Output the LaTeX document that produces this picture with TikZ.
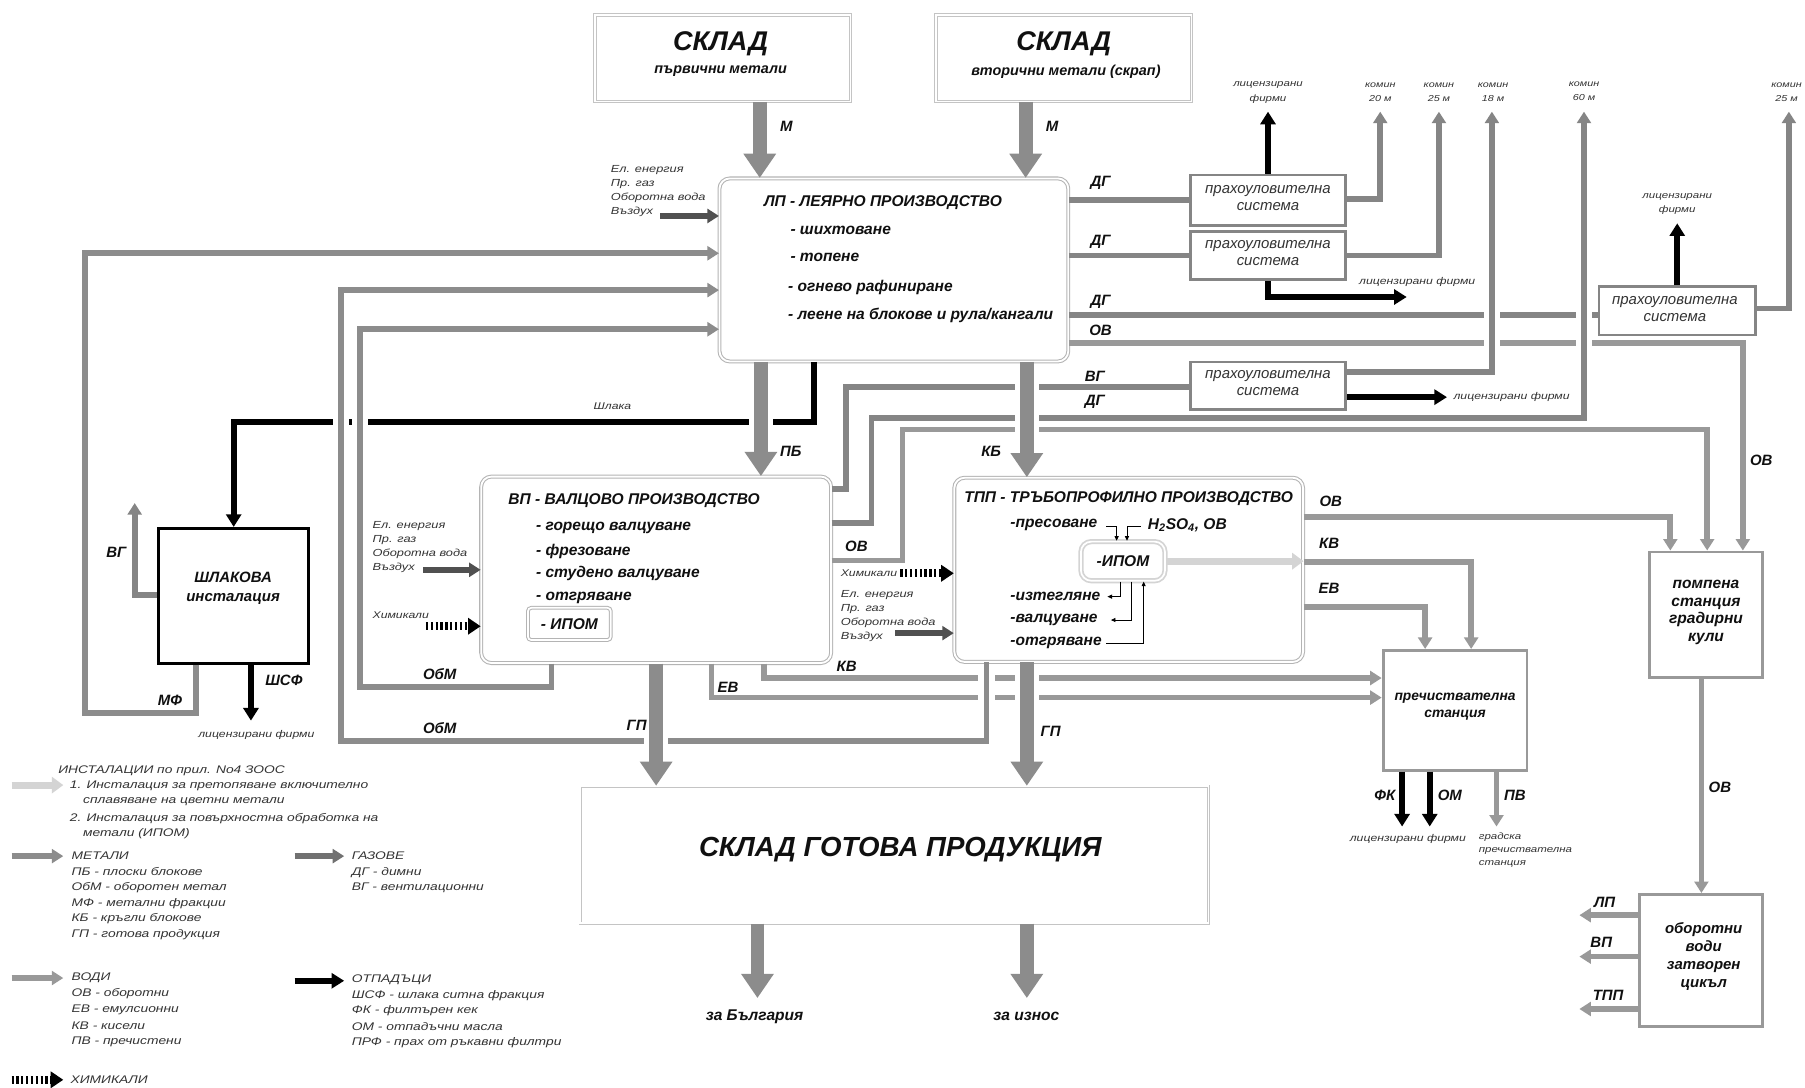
\documentclass[tikz,border=0pt]{standalone}
\usepackage{fontspec}
\setmainfont{Liberation Sans}
\newfontfamily\wf[FakeStretch=1.25]{Liberation Sans}
\usetikzlibrary{arrows.meta}
\definecolor{cmetal}{HTML}{8C8C8C}
\definecolor{cgas}{HTML}{858585}
\definecolor{cwater}{HTML}{999999}
\definecolor{cdark}{HTML}{505050}
\definecolor{cbox}{HTML}{B4B4B4}
\definecolor{cbox2}{HTML}{C4C4C4}
\definecolor{cinst}{HTML}{D4D4D4}
\definecolor{ctxt}{HTML}{101010}
\definecolor{csmall}{HTML}{333333}
\newcommand\crossgap[4]{%
  \fill[white] ({#1-#3-4.5},{#2-4}) rectangle ({#1+#3+4.5},{#2+4});
  \fill[#4] ({#1-#3},{#2-4.6}) rectangle ({#1+#3},{#2+4.6});}
\tikzset{
  pipe/.style={line width=5pt, draw=cmetal},
  gpipe/.style={line width=5pt, draw=cgas},
  wpipe/.style={line width=5pt, draw=cwater},
  ptip/.style={-{Triangle[length=10pt,width=12pt]}},
  bigarrow/.style={line width=12pt, draw=cmetal, -{Triangle[length=21pt,width=27pt]}},
  waste/.style={line width=5pt, draw=black},
  wtip/.style={-{Triangle[length=11pt,width=13pt]}},
  darkin/.style={line width=5pt, draw=cdark, -{Triangle[length=10pt,width=12pt]}},
  chem/.style={line width=7pt, draw=black, dash pattern=on 2pt off 2.2pt, -{Triangle[length=11pt,width=14pt]}},
  instarrow/.style={line width=6pt, draw=cinst, -{Triangle[length=10pt,width=14pt]}},
  thinarrow/.style={line width=0.8pt, draw=black, -{Triangle[length=4pt,width=3.5pt]}},
  mainbox/.style={draw=cbox, line width=0.9pt, double=white, double distance=1.6pt, rounded corners=9pt, fill=white, inner sep=0pt},
  skladbox/.style={draw=cbox2, line width=0.8pt, double=white, double distance=1.3pt, fill=white, inner sep=0pt},
  dustbox/.style={draw=cgas, line width=2.5pt, fill=white, inner sep=0pt},
  graybox/.style={draw=cwater, line width=2.5pt, fill=white, inner sep=0pt},
  slagbox/.style={draw=black, line width=2.5pt, fill=white, inner sep=0pt},
  ipombox/.style={draw=cbox, line width=0.9pt, double=white, double distance=1.5pt, rounded corners=3pt, inner sep=0pt},
  ipomtbox/.style={draw=cinst, line width=1.5pt, double=white, double distance=1.5pt, rounded corners=9pt, inner sep=0pt},
  txt/.style={inner sep=0.5pt, text=ctxt},
  btxt/.style={txt, font=\bfseries\itshape\fontsize{13.5}{16}\selectfont},
  lbl/.style={txt, font=\bfseries\itshape\fontsize{13}{15}\selectfont},
  smtxt/.style={inner sep=0.5pt, text=csmall, font=\wf\itshape\fontsize{8.5}{12}\selectfont},
  intxt/.style={inner sep=0.5pt, text=csmall, font=\wf\itshape\fontsize{8.9}{12.2}\selectfont},
  tinytxt/.style={inner sep=0.5pt, text=csmall, font=\wf\itshape\fontsize{7.5}{12}\selectfont},
  legtxt/.style={inner sep=0.5pt, anchor=west, text=csmall, font=\wf\itshape\fontsize{9.6}{12}\selectfont},
  dusttxt/.style={inner sep=0.5pt, text=csmall, align=center, font=\itshape\fontsize{13}{14.5}\selectfont},
  bigtitle/.style={txt, font=\bfseries\itshape\fontsize{23.5}{25}\selectfont},
  subtitle/.style={txt, font=\bfseries\itshape\fontsize{12.5}{14}\selectfont},
}
\begin{document}
\begin{tikzpicture}[x=1pt,y=-1pt]
\useasboundingbox (0,0) rectangle (1568,945);
\fill[white] (0,0) rectangle (1568,945);

% ---------------- boxes
\node[skladbox, minimum width=222pt, minimum height=75pt] (s1) at (628,50.5) {};
\node[skladbox, minimum width=222pt, minimum height=75pt] (s2) at (924,50.5) {};
\node[bigtitle] at (626,38) {СКЛАД};
\node[subtitle] at (626,62) {първични метали};
\node[bigtitle] at (924,38) {СКЛАД};
\node[subtitle] at (926,62) {вторични метали (скрап)};

\node[mainbox, minimum width=303pt, minimum height=159pt] (lp) at (776.5,234.5) {};
\node[mainbox, minimum width=304pt, minimum height=162pt] (vp) at (570,495) {};
\node[mainbox, minimum width=303pt, minimum height=160pt] (tpp) at (980.5,495) {};
\node[slagbox, minimum width=130pt, minimum height=117pt] (slag) at (202.75,517.5) {};
\node[dustbox, minimum width=135pt, minimum height=44pt] (dust1) at (1101.5,174) {};
\node[dustbox, minimum width=135pt, minimum height=42pt] (dust2) at (1101.5,222) {};
\node[dustbox, minimum width=135pt, minimum height=41pt] (dust3) at (1101.5,335) {};
\node[dustbox, minimum width=136pt, minimum height=42pt] (dust4) at (1457,270) {};
\node[graybox, minimum width=98pt, minimum height=109pt] (pump) at (1482,534) {};
\node[graybox, minimum width=125pt, minimum height=104pt] (pur) at (1264,617) {};
\node[graybox, minimum width=107pt, minimum height=115pt] (obor) at (1477.5,834.5) {};
\node[skladbox, minimum width=546pt, minimum height=119pt] (gotova) at (777,742.5) {};
\node[ipombox, minimum width=72pt, minimum height=28pt] (ipom1) at (494.6,542) {};
\node[ipomtbox, minimum width=73pt, minimum height=34pt] (ipom2) at (975.5,487.5) {};

% ---------------- box texts
\node[txt, font=\bfseries\itshape\fontsize{24}{27}\selectfont] at (782,738) {СКЛАД ГОТОВА ПРОДУКЦИЯ};
\node[btxt, anchor=west] at (663,176) {ЛП - ЛЕЯРНО ПРОИЗВОДСТВО};
\node[btxt, anchor=west] at (686,200) {- шихтоване};
\node[btxt, anchor=west] at (686,224) {- топене};
\node[btxt, anchor=west] at (684,250) {- огнево рафиниране};
\node[btxt, anchor=west] at (684,273.7) {- леене на блокове и рула/кангали};
\node[btxt, anchor=west] at (441,435) {ВП - ВАЛЦОВО ПРОИЗВОДСТВО};
\node[btxt, anchor=west] at (465,459) {- горещо валцуване};
\node[btxt, anchor=west] at (465,479) {- фрезоване};
\node[btxt, anchor=west] at (465,498) {- студено валцуване};
\node[btxt, anchor=west] at (465,519.6) {- отгряване};
\node[btxt] at (ipom1) {- ИПОМ};
\node[btxt, anchor=west] at (837,433) {ТПП - ТРЪБОПРОФИЛНО ПРОИЗВОДСТВО};
\node[btxt, anchor=west] at (877,456) {-пресоване};
\node[btxt, anchor=west] at (996.5,456) {H\textsubscript{2}SO\textsubscript{4}, ОВ};
\node[btxt] at (ipom2) {-ИПОМ};
\node[btxt, anchor=west] at (877,518.3) {-изтегляне};
\node[btxt, anchor=west] at (877,538.6) {-валцуване};
\node[btxt, anchor=west] at (877,558.7) {-отгряване};
\node[btxt, align=center, font=\bfseries\itshape\fontsize{13}{16}\selectfont] at (202.5,511) {ШЛАКОВА\\инсталация};
\node[btxt, align=center, font=\bfseries\itshape\fontsize{13.5}{15.5}\selectfont] at (1482,532) {помпена\\станция\\градирни\\кули};
\node[btxt, align=center, font=\bfseries\itshape\fontsize{12}{15}\selectfont] at (1264,614) {пречиствателна\\станция};
\node[btxt, align=center, font=\bfseries\itshape\fontsize{13}{15.5}\selectfont] at (1480,831) {оборотни\\води\\затворен\\цикъл};
\node[dusttxt] at (1101.5,172) {прахоуловителна\\система};
\node[dusttxt] at (1101.5,220) {прахоуловителна\\система};
\node[dusttxt] at (1101.5,333) {прахоуловителна\\система};
\node[dusttxt] at (1455,268.5) {прахоуловителна\\система};

% ---------------- inputs
\node[intxt, anchor=north west, align=left] at (530,143) {Ел. енергия\\Пр. газ\\Оборотна вода\\Въздух};
\draw[darkin] (573.5,187.6) coordinate (inlp) -- (lp.west |- inlp);
\node[intxt, anchor=north west, align=left] at (323,452) {Ел. енергия\\Пр. газ\\Оборотна вода\\Въздух};
\draw[darkin] (367.6,495) coordinate (invp) -- (vp.west |- invp);
\node[smtxt, anchor=west] at (323,534) {Химикали};
\draw[chem] (370,544) coordinate (chvp) -- (vp.west |- chvp);
\node[smtxt, anchor=west] at (729.7,498) {Химикали};
\draw[chem] (782,498) coordinate (chtpp) -- (tpp.west |- chtpp);
\node[intxt, anchor=north west, align=left] at (729.7,512) {Ел. енергия\\Пр. газ\\Оборотна вода\\Въздух};
\draw[darkin] (777.5,550) coordinate (intpp) -- (tpp.west |- intpp);

% ---------------- left loops
\draw[pipe,ptip] (170,0 |- slag.south) -- (170,619.6) -- (74,619.6) -- (74,220) -- (lp.west |- 0,220);
\draw[pipe,ptip] (857,0 |- tpp.south) -- (857,644) -- (296,644) -- (296,252) -- (lp.west |- 0,252);
\draw[pipe,ptip] (479,0 |- vp.south) -- (479,596.5) -- (313,596.5) -- (313,286) -- (lp.west |- 0,286);
\draw[waste,wtip] (707,0 |- lp.south) -- (707,366.5) -- (203,366.5) -- (203,0 |- slag.north);
\draw[gpipe,ptip] (slag.west |- 0,517) -- (117,517) -- (117,437) coordinate (vgslag);
\draw[waste,wtip] (218,0 |- slag.south) -- (218,626) coordinate (shsf);

% ---------------- big metal arrows
\draw[bigarrow] (660,0 |- s1.south) -- (660,0 |- lp.north);
\draw[bigarrow] (891,0 |- s2.south) -- (891,0 |- lp.north);
\draw[bigarrow] (661,0 |- lp.south) -- (661,0 |- vp.north);
\draw[bigarrow] (892,0 |- lp.south) -- (892,0 |- tpp.north);
\draw[bigarrow] (570,0 |- vp.south) -- (570,0 |- gotova.north);
\draw[bigarrow] (892,0 |- tpp.south) -- (892,0 |- gotova.north);
\draw[bigarrow] (658,0 |- gotova.south) -- (658,867) coordinate (tobg);
\draw[bigarrow] (892,0 |- gotova.south) -- (892,867) coordinate (toexp);

% ---------------- LP right
\draw[gpipe] (lp.east |- 0,174) -- (dust1.west |- 0,174);
\draw[gpipe] (lp.east |- 0,222) -- (dust2.west |- 0,222);
\draw[gpipe] (lp.east |- 0,273.5) -- (dust4.west |- 0,273.5);
\draw[wpipe,ptip] (lp.east |- 0,298) -- (1514,298) -- (1514,0 |- pump.north);

% ---------------- dust outputs
\draw[waste,wtip] (1101.5,0 |- dust1.north) -- (1101.5,97) coordinate (lf1);
\draw[gpipe,ptip] (dust1.east |- 0,173) -- (1199,173) -- (1199,97) coordinate (ch20);
\draw[gpipe,ptip] (dust2.east |- 0,222) -- (1250,222) -- (1250,97) coordinate (ch25);
\draw[waste,wtip] (1101.5,0 |- dust2.south) -- (1101.5,258) -- (1222,258) coordinate (lf2);
\draw[gpipe,ptip] (dust3.east |- 0,323) -- (1296,323) -- (1296,97) coordinate (ch18);
\draw[waste,wtip] (dust3.east |- 0,345) -- (1257,345) coordinate (lf3);
\draw[waste,wtip] (1457,0 |- dust4.north) -- (1457,194) coordinate (lf4);
\draw[gpipe,ptip] (dust4.east |- 0,268) -- (1554,268) -- (1554,97) coordinate (ch25b);

% ---------------- VP right
\draw[gpipe] (vp.east |- 0,425) -- (735,425) -- (735,336) -- (dust3.west |- 0,336);
\draw[gpipe,ptip] (vp.east |- 0,454) -- (757,454) -- (757,363) -- (1376,363) -- (1376,97) coordinate (ch60);
\draw[wpipe,ptip] (vp.east |- 0,487) -- (784,487) -- (784,373) -- (1483,373) -- (1483,0 |- pump.north);

% ---------------- TPP right
\draw[wpipe,ptip] (tpp.east |- 0,449) -- (1451,449) -- (1451,0 |- pump.north);
\draw[wpipe,ptip] (tpp.east |- 0,488) -- (1278,488) -- (1278,0 |- pur.north);
\draw[wpipe,ptip] (tpp.east |- 0,527) -- (1238,527) -- (1238,0 |- pur.north);
\draw[instarrow] (ipom2.east) -- (tpp.east |- ipom2.east);

% ---------------- VP bottom waters
\draw[wpipe,ptip] (664,0 |- vp.south) -- (664,589) -- (pur.west |- 0,589);
\draw[wpipe,ptip] (618,0 |- vp.south) -- (618,606) -- (pur.west |- 0,606);

% ---------------- purification outputs
\draw[waste,wtip] (1218,0 |- pur.south) -- (1218,718) coordinate (fk);
\draw[waste,wtip] (1242,0 |- pur.south) -- (1242,718) coordinate (om);
\draw[wpipe,ptip] (1300,0 |- pur.south) -- (1300,718) coordinate (pv);
\draw[wpipe,ptip] (1478,0 |- pump.south) -- (1478,0 |- obor.north);
\draw[wpipe,ptip] (obor.west |- 0,795) -- (1372,795) coordinate (wlp);
\draw[wpipe,ptip] (obor.west |- 0,831) -- (1372,831) coordinate (wvp);
\draw[wpipe,ptip] (obor.west |- 0,876.5) -- (1372,876.5) coordinate (wtpp);

% ---------------- TPP inner small arrows
\draw[thinarrow] (961,457) -- (970,457) -- (970,0 |- ipom2.north);
\draw[thinarrow] (991,457) -- (979,457) -- (979,0 |- ipom2.north);
\draw[thinarrow] (973,0 |- ipom2.south) -- (973,518.3) -- (962,518.3);
\draw[thinarrow] (983,0 |- ipom2.south) -- (983,538.6) -- (965,538.6);
\draw[thinarrow] (961,558.7) -- (993.5,558.7) -- (993.5,0 |- ipom2.south);

% ---------------- crossings
\crossgap{296}{366.5}{2.5}{cmetal}
\crossgap{313}{366.5}{2.5}{cmetal}
\crossgap{661}{366.5}{6}{cmetal}
\crossgap{892}{336}{6}{cmetal}
\crossgap{892}{363}{6}{cmetal}
\crossgap{892}{373}{6}{cmetal}
\crossgap{1296}{273.5}{2.5}{cgas}
\crossgap{1296}{298}{2.5}{cgas}
\crossgap{1376}{273.5}{2.5}{cgas}
\crossgap{1376}{298}{2.5}{cgas}
\crossgap{857}{589}{2.5}{cmetal}
\crossgap{857}{606}{2.5}{cmetal}
\crossgap{892}{589}{6}{cmetal}
\crossgap{892}{606}{6}{cmetal}
\crossgap{570}{644}{6}{cmetal}

% ---------------- labels
\node[lbl] at (683,110) {М};
\node[lbl] at (914,110) {М};
\node[lbl] at (956,159) {ДГ};
\node[lbl] at (956,210) {ДГ};
\node[lbl] at (956,262) {ДГ};
\node[lbl] at (956,286.7) {ОВ};
\node[lbl] at (951,327) {ВГ};
\node[lbl] at (951,349) {ДГ};
\node[lbl] at (687,392) {ПБ};
\node[lbl] at (861,392) {КБ};
\node[lbl] at (744,475) {ОВ};
\node[lbl] at (735.5,579) {КВ};
\node[lbl] at (632.5,597) {ЕВ};
\node[lbl] at (553,630) {ГП};
\node[lbl] at (912.7,635.6) {ГП};
\node[lbl] at (382,585.6) {ОбМ};
\node[lbl] at (382,632.7) {ОбМ};
\node[lbl] at (147.7,608) {МФ};
\node[lbl] at (246.6,591) {ШСФ};
\node[lbl] at (101,480) {ВГ};
\node[lbl] at (1156,435.8) {ОВ};
\node[lbl] at (1154.6,472) {КВ};
\node[lbl] at (1154.6,511) {ЕВ};
\node[lbl] at (1530,399.6) {ОВ};
\node[lbl] at (1494,683.6) {ОВ};
\node[lbl] at (1203,690.6) {ФК};
\node[lbl] at (1259.5,690.6) {ОМ};
\node[lbl] at (1316,690.6) {ПВ};
\node[lbl] at (1394,783.6) {ЛП};
\node[lbl] at (1391,819) {ВП};
\node[lbl] at (1397,865) {ТПП};
\node[lbl, font=\bfseries\itshape\fontsize{13.5}{15}\selectfont] at (655.5,883) {за България};
\node[lbl, font=\bfseries\itshape\fontsize{13.5}{15}\selectfont] at (891.6,883) {за износ};

\node[smtxt] at (532,353) {Шлака};
\node[smtxt] at (222.7,638.6) {лицензирани фирми};
\node[smtxt] at (1223,729) {лицензирани фирми};
\node[smtxt, anchor=north west, align=left, font=\wf\itshape\fontsize{8}{11}\selectfont] at (1284,723) {градска\\пречиствателна\\станция};
\node[smtxt, align=center, font=\wf\itshape\fontsize{8}{12.5}\selectfont] at (1101.5,80.5) {лицензирани\\фирми};
\node[smtxt, anchor=west] at (1180,245) {лицензирани фирми};
\node[smtxt, anchor=west] at (1262,345) {лицензирани фирми};
\node[smtxt, align=center, font=\wf\itshape\fontsize{8}{12}\selectfont] at (1457,177) {лицензирани\\фирми};
\node[tinytxt, align=center] at (1199,80) {комин\\20 м};
\node[tinytxt, align=center] at (1250,80) {комин\\25 м};
\node[tinytxt, align=center] at (1297,80) {комин\\18 м};
\node[tinytxt, align=center] at (1376,79) {комин\\60 м};
\node[tinytxt, align=center] at (1552,80) {комин\\25 м};

% ---------------- legend
\node[legtxt] at (50,669.5) {ИНСТАЛАЦИИ по прил. No4 ЗООС};
\draw[instarrow] (10,682) coordinate (lg1) -- (55,682) coordinate (lg1e);
\node[legtxt] at (60,682.8) {1. Инсталация за претопяване включително};
\node[legtxt] at (71.5,696) {сплавяване на цветни метали};
\node[legtxt] at (60,710.8) {2. Инсталация за повърхностна обработка на};
\node[legtxt] at (71.5,723.8) {метали (ИПОМ)};
\draw[pipe,ptip] (10,743.7) coordinate (lg2) -- (55,743.7) coordinate (lg2e);
\node[legtxt] at (61.5,743.7) {МЕТАЛИ};
\node[legtxt] at (61.5,757) {ПБ - плоски блокове};
\node[legtxt] at (61.5,770.7) {ОбМ - оборотен метал};
\node[legtxt] at (61.5,784.6) {МФ - метални фракции};
\node[legtxt] at (61.5,798) {КБ - кръгли блокове};
\node[legtxt] at (61.5,811.6) {ГП - готова продукция};
\draw[gpipe,ptip,draw=cgas!85!black] (256,743.7) coordinate (lg3) -- (299,743.7) coordinate (lg3e);
\node[legtxt] at (305,743.7) {ГАЗОВЕ};
\node[legtxt] at (305,757.6) {ДГ - димни};
\node[legtxt] at (305,771) {ВГ - вентилационни};
\draw[wpipe,ptip] (10,849.6) coordinate (lg4) -- (55,849.6) coordinate (lg4e);
\node[legtxt] at (61.5,849.6) {ВОДИ};
\node[legtxt] at (61.5,863.5) {ОВ - оборотни};
\node[legtxt] at (61.5,877.3) {ЕВ - емулсионни};
\node[legtxt] at (61.5,891) {КВ - кисели};
\node[legtxt] at (61.5,905) {ПВ - пречистени};
\draw[waste,wtip] (256,852) coordinate (lg5) -- (299,852) coordinate (lg5e);
\node[legtxt] at (305,851) {ОТПАДЪЦИ};
\node[legtxt] at (305,865) {ШСФ - шлака ситна фракция};
\node[legtxt] at (305,878) {ФК - филтърен кек};
\node[legtxt] at (305,892) {ОМ - отпадъчни масла};
\node[legtxt] at (305,906) {ПРФ - прах от ръкавни филтри};
\draw[chem] (10,938) coordinate (lg6) -- (55,938) coordinate (lg6e);
\node[legtxt] at (60.6,938) {ХИМИКАЛИ};
\end{tikzpicture}
\end{document}
